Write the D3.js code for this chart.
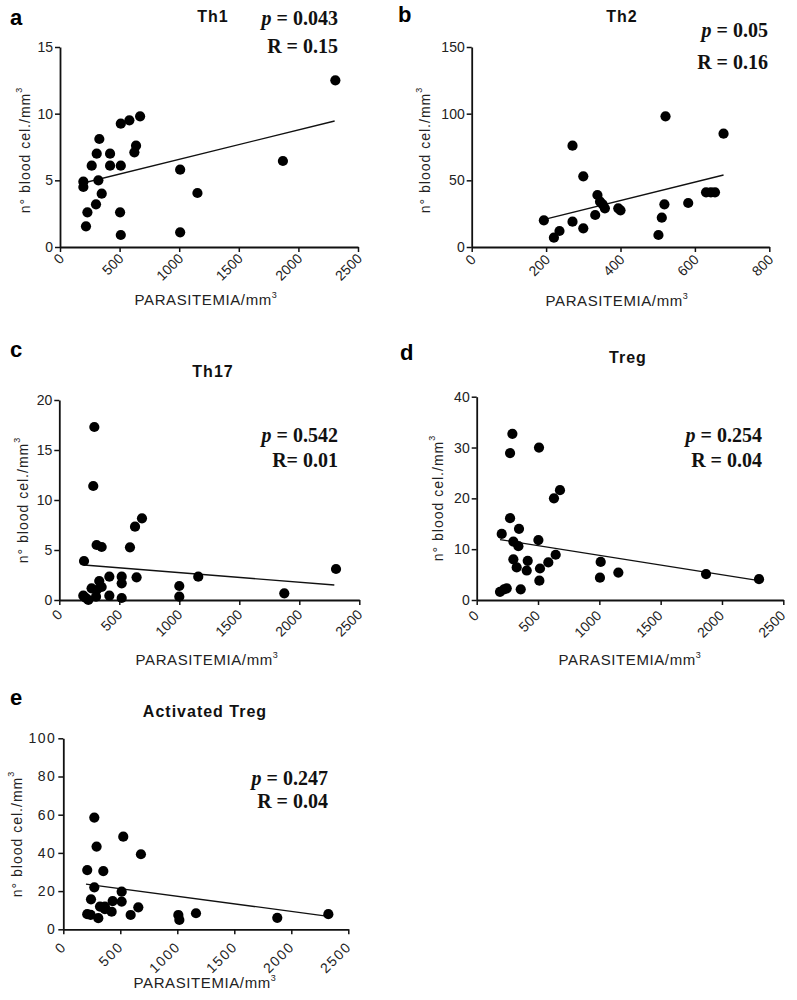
<!DOCTYPE html>
<html>
<head>
<meta charset="utf-8">
<script src="https://cdn.jsdelivr.net/npm/d3@7"></script>
<style>
  body { margin: 0; background: #fff; }
  svg { display: block; }
  .tick text { font-family: "Liberation Sans", Arial, sans-serif; }
</style>
</head>
<body>
<svg id="chart" width="797" height="1000"></svg>
<script>
// ---------------- DATA ----------------
const panelLetters = ["a", "b", "c", "d", "e"];
const panelTitles = ["Th1", "Th2", "Th17", "Treg", "Activated Treg"];
const pValues = ["0.043", "0.05", "0.542", "0.254", "0.247"];
const rValues = ["0.15", "0.16", "0.01", "0.04", "0.04"];

const xTicksWide = [0, 500, 1000, 1500, 2000, 2500];
const xTicksTh2 = [0, 200, 400, 600, 800];
const yTicksTh1 = [0, 5, 10, 15];
const yTicksTh2 = [0, 50, 100, 150];
const yTicksTh17 = [0, 5, 10, 15, 20];
const yTicksTreg = [0, 10, 20, 30, 40];
const yTicksAct = [0, 20, 40, 60, 80, 100];

// Th1
const th1X = [196, 196, 230, 218, 266, 308, 330, 322, 302, 350, 420, 420, 510, 504, 510, 510, 582, 672, 638, 624, 1008, 1008, 1153, 1870, 2310];
const th1Y = [4.9, 4.5, 2.6, 1.55, 6.1, 7.0, 8.1, 5.0, 3.2, 4.0, 7.0, 6.1, 6.1, 2.6, 0.9, 9.25, 9.5, 9.8, 7.6, 7.1, 5.8, 1.1, 4.05, 6.45, 12.5];
const th1Fit = [[196, 4.8], [2304, 9.45]];

// Th2
const th2X = [194, 221, 236, 271, 271, 300, 300, 332, 338, 345, 352, 358, 394, 400, 502, 511, 518, 521, 582, 630, 643, 654, 677];
const th2Y = [20, 7, 12, 76, 19, 53, 14, 24, 39, 34, 32, 29, 29, 27.5, 9, 22, 32, 98, 33, 41, 41, 41, 85];
const th2Fit = [[193, 20.5], [677, 54]];

// Th17
const th17X = [200, 222, 242, 206, 292, 283, 311, 353, 269, 311, 333, 353, 306, 417, 417, 520, 520, 520, 589, 631, 689, 644, 1000, 1000, 1158, 1875, 2306];
const th17Y = [0.43, 0.2, 0, 3.9, 17.3, 11.4, 5.5, 5.3, 1.17, 1.0, 1.9, 1.3, 0.33, 2.33, 0.43, 2.33, 1.67, 0.2, 5.27, 7.33, 8.17, 2.27, 1.4, 0.33, 2.33, 0.67, 3.1];
const th17Fit = [[206, 3.5], [2292, 1.5]];

// Treg
const tregX = [190, 223, 245, 204, 272, 272, 291, 299, 299, 326, 340, 345, 359, 408, 416, 508, 503, 516, 511, 584, 630, 644, 679, 1011, 1005, 1155, 1870, 2302];
const tregY = [1.6, 2.1, 2.3, 13, 16.1, 28.9, 32.7, 11.5, 8.0, 6.4, 10.6, 14.0, 2.1, 5.8, 7.7, 30, 11.8, 6.2, 3.8, 7.4, 20, 8.9, 21.6, 7.5, 4.4, 5.4, 5.1, 4.1];
const tregFit = [[190, 11.9], [2302, 3.8]];

// Activated Treg
const actX = [210, 240, 210, 243, 272, 272, 292, 307, 322, 351, 365, 365, 424, 433, 512, 512, 526, 591, 658, 681, 1009, 1018, 1164, 1877, 2325];
const actY = [7.9, 7.6, 31, 15.7, 22, 58.5, 43.3, 5.8, 11.9, 30.5, 10.5, 11.9, 9.2, 14.8, 19.7, 14.5, 48.5, 7.5, 11.5, 39.3, 7.5, 4.9, 8.4, 6, 7.9];
const actFit = [[199, 23.6], [2325, 6.8]];

// ---------------- LAYOUT (pixels only) ----------------
const layouts = [
  { x0: 60,    x1: 358,   yTop: 47,    yBot: 247,   letter: [10, 25],  title: [213, 22],  stat: [338, 25, 53],  ylab: [25, 150], xlab: [206, 305], tk: [1, 9],  ls: 0 },
  { x0: 471.7, x1: 769.3, yTop: 47,    yBot: 247,   letter: [398, 22], title: [622, 22],  stat: [768, 37, 69],  ylab: [425, 150], xlab: [617, 306], tk: [1, 10],  ls: 0 },
  { x0: 59.3,  x1: 359.3, yTop: 400,   yBot: 600,   letter: [10, 357], title: [213, 377], stat: [338, 442, 467], ylab: [23, 500],  xlab: [207, 665], tk: [0, 12], ls: 0 },
  { x0: 476.7, x1: 783.3, yTop: 396.7, yBot: 600,   letter: [400, 360],title: [628, 363], stat: [762, 442, 467], ylab: [438, 498], xlab: [630, 665], tk: [-1, 13], ls: 0 },
  { x0: 63.3,  x1: 348.3, yTop: 738.3, yBot: 929.3, letter: [10, 705], title: [205, 717], stat: [328, 785, 808], ylab: [17, 834], xlab: [205, 988], tk: [0, 15], ls: 1.5 }
];

const panels = [
  { xs: th1X, ys: th1Y, fit: th1Fit, xTicks: xTicksWide, yTicks: yTicksTh1 },
  { xs: th2X, ys: th2Y, fit: th2Fit, xTicks: xTicksTh2, yTicks: yTicksTh2 },
  { xs: th17X, ys: th17Y, fit: th17Fit, xTicks: xTicksWide, yTicks: yTicksTh17 },
  { xs: tregX, ys: tregY, fit: tregFit, xTicks: xTicksWide, yTicks: yTicksTreg },
  { xs: actX, ys: actY, fit: actFit, xTicks: xTicksWide, yTicks: yTicksAct }
];

const svg = d3.select("#chart");
const sans = '"Liberation Sans", Arial, sans-serif';
const serif = '"Liberation Serif", "Times New Roman", serif';

panels.forEach((p, i) => {
  const L = layouts[i];
  const x = d3.scaleLinear().domain([p.xTicks[0], p.xTicks[p.xTicks.length - 1]]).range([L.x0, L.x1]);
  const y = d3.scaleLinear().domain([p.yTicks[0], p.yTicks[p.yTicks.length - 1]]).range([L.yBot, L.yTop]);
  const g = svg.append("g");

  // x axis
  const xa = g.append("g").attr("transform", `translate(0,${L.yBot})`)
    .call(d3.axisBottom(x).tickValues(p.xTicks).tickSize(5).tickSizeOuter(0).tickFormat(d3.format("d")));
  xa.select(".domain").attr("stroke", "#111").attr("stroke-width", 1.8);
  xa.selectAll(".tick line").attr("stroke", "#111").attr("stroke-width", 1.5);
  xa.selectAll(".tick text")
    .attr("font-size", 14).attr("fill", "#222")
    .attr("letter-spacing", L.ls)
    .attr("text-anchor", "end")
    .attr("transform", `translate(${L.tk[0]},${L.tk[1]}) rotate(-45)`)
    .attr("x", 0).attr("y", 0).attr("dy", "0.35em");

  // y axis
  const ya = g.append("g").attr("transform", `translate(${L.x0},0)`)
    .call(d3.axisLeft(y).tickValues(p.yTicks).tickSize(5).tickSizeOuter(0).tickFormat(d3.format("d")));
  ya.select(".domain").attr("stroke", "#111").attr("stroke-width", 1.8);
  ya.selectAll(".tick line").attr("stroke", "#111").attr("stroke-width", 1.5);
  ya.selectAll(".tick text").attr("font-size", 14).attr("fill", "#222").attr("x", -7)
    .attr("letter-spacing", L.ls);

  // regression line
  g.append("line")
    .attr("x1", x(p.fit[0][0])).attr("y1", y(p.fit[0][1]))
    .attr("x2", x(p.fit[1][0])).attr("y2", y(p.fit[1][1]))
    .attr("stroke", "#111").attr("stroke-width", 1.3);

  // points
  g.selectAll("circle.pt").data(p.xs.map((v, k) => [v, p.ys[k]])).join("circle")
    .attr("class", "pt")
    .attr("cx", d => x(d[0])).attr("cy", d => y(d[1])).attr("r", 5.1)
    .attr("fill", "#000");

  // panel letter
  g.append("text").attr("x", L.letter[0]).attr("y", L.letter[1])
    .attr("font-family", sans).attr("font-weight", "bold").attr("font-size", 22)
    .text(panelLetters[i]);

  // title
  g.append("text").attr("x", L.title[0]).attr("y", L.title[1])
    .attr("text-anchor", "middle")
    .attr("font-family", sans).attr("font-weight", "bold").attr("font-size", 16)
    .attr("letter-spacing", 1).attr("fill", "#111")
    .text(panelTitles[i]);

  // stats
  const st = g.append("text").attr("x", L.stat[0]).attr("y", L.stat[1])
    .attr("text-anchor", "end")
    .attr("font-family", serif).attr("font-weight", "bold").attr("font-size", 20).attr("fill", "#111");
  st.append("tspan").attr("font-style", "italic").text("p");
  st.append("tspan").text(" = " + pValues[i]);
  g.append("text").attr("x", L.stat[0]).attr("y", L.stat[2])
    .attr("text-anchor", "end")
    .attr("font-family", serif).attr("font-weight", "bold").attr("font-size", 20).attr("fill", "#111")
    .text((i === 2 ? "R= " : "R = ") + rValues[i]);

  // y label
  const yl = g.append("text")
    .attr("transform", `translate(${L.ylab[0]},${L.ylab[1]}) rotate(-90)`)
    .attr("text-anchor", "middle").attr("dy", "0.35em")
    .attr("font-family", sans).attr("font-size", 14).attr("letter-spacing", 1).attr("fill", "#222");
  yl.append("tspan").text("n° blood cel./mm");
  yl.append("tspan").attr("font-size", 9).attr("dy", "-0.9em").text("3");

  // x label
  const xl = g.append("text").attr("x", L.xlab[0]).attr("y", L.xlab[1])
    .attr("text-anchor", "middle")
    .attr("font-family", sans).attr("font-size", 15).attr("letter-spacing", 0.6).attr("fill", "#222");
  xl.append("tspan").text("PARASITEMIA/mm");
  xl.append("tspan").attr("font-size", 9).attr("dy", "-0.8em").text("3");
});
</script>
</body>
</html>
